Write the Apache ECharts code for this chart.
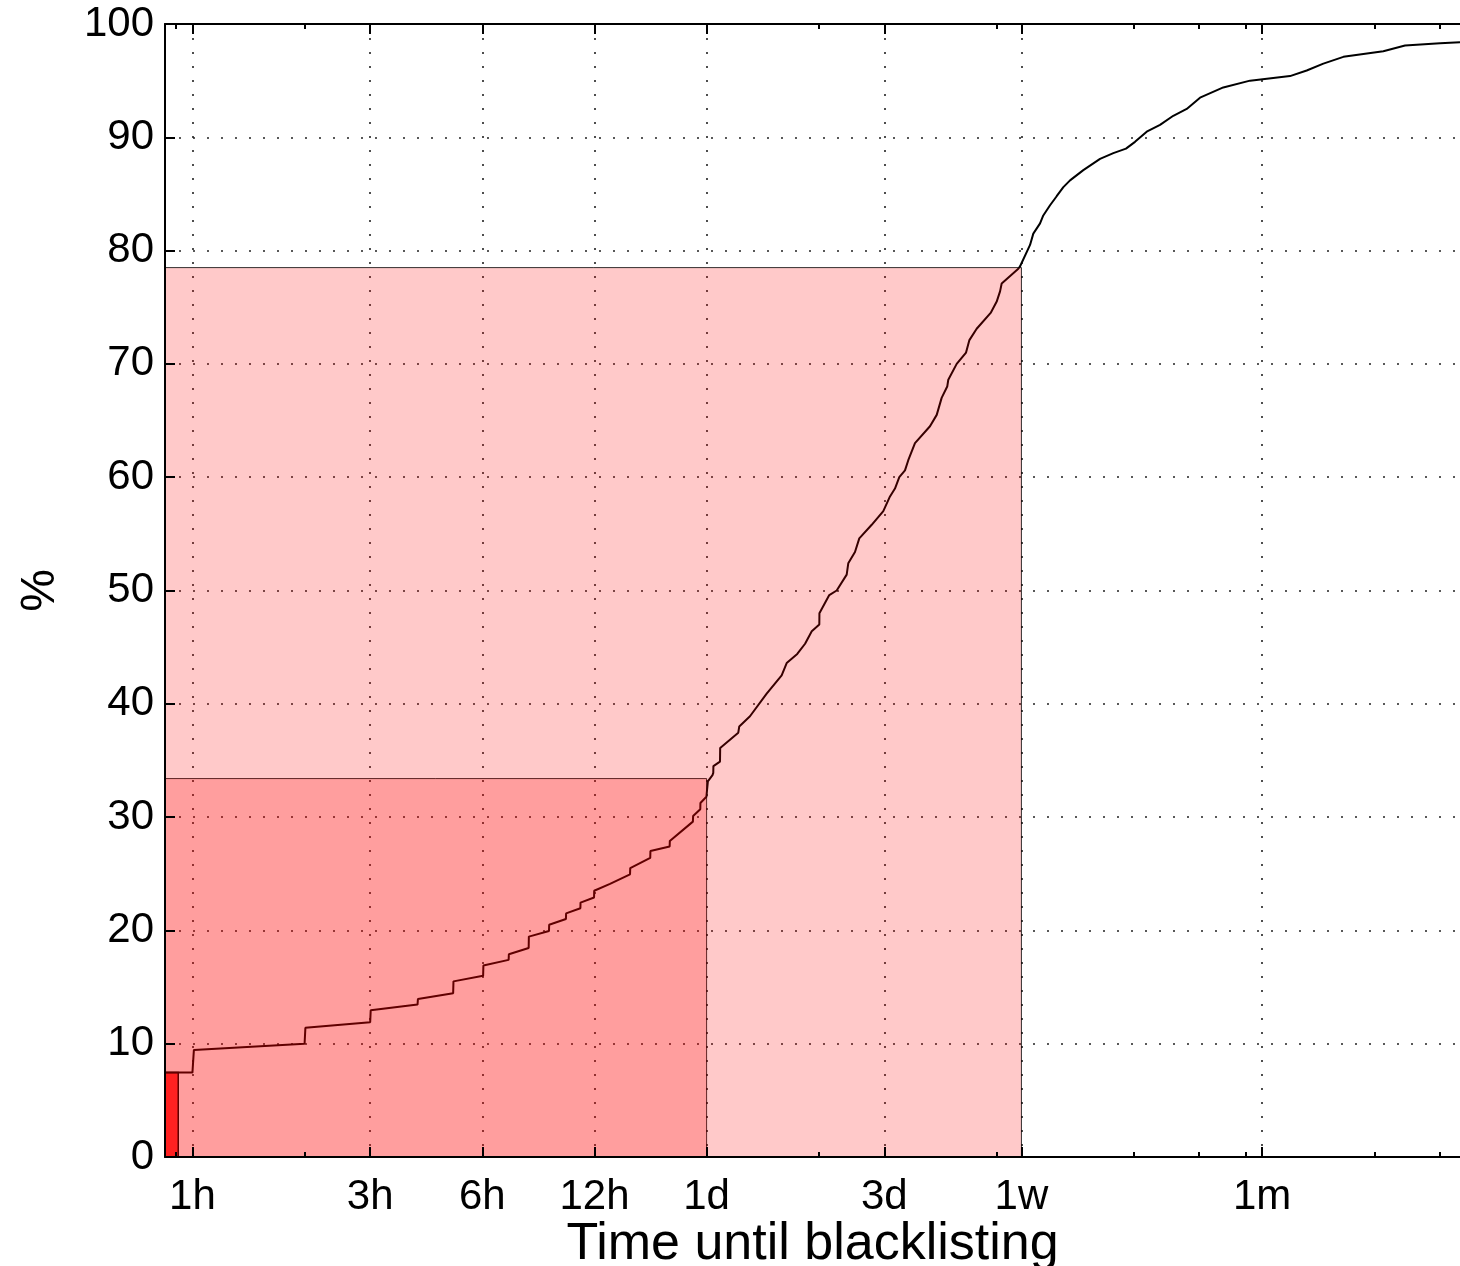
<!DOCTYPE html>
<html>
<head>
<meta charset="utf-8">
<title>Time until blacklisting</title>
<script src="https://cdn.jsdelivr.net/npm/echarts@6/dist/echarts.min.js"></script>
<style>
	html, body { margin: 0; padding: 0; background: #fff; }
	#chart { width: 1460px; height: 1266px; }
</style>
</head>
<body>
<div id="chart"></div>
<script>
"use strict";

// cumulative share of domains blacklisted, by hours after first seen
var cdfHours = [0.844, 1.0, 1.009, 2.0, 2.01, 3.0, 3.01, 4.02, 4.03, 5.01, 5.02, 6.03, 6.04, 7.06, 7.07,
	7.99, 8.0, 9.06, 9.07, 10.06, 10.07, 11.0, 11.01, 11.97, 11.98, 13.21, 14.95, 14.97, 16.94, 16.96,
	19.10, 19.12, 22.05, 22.08, 23.08, 23.1, 23.97, 24.19, 24.89, 25.01, 25.03, 26.07, 26.1, 29.19, 29.37,
	31.38, 34.79, 38.17, 39.37, 42.03, 44.11, 45.97, 48.17, 48.2, 51.23, 53.63, 57.05, 57.61, 60.05, 61.67,
	66.59, 71.54, 74.56, 76.89, 78.97, 81.80, 83.48, 87.01, 95.47, 99.52, 102.6, 106.2, 106.9, 112.6, 119.3,
	121.8, 127.4, 138.9, 144.2, 147.2, 148.7, 164.8, 166.5, 177.2, 180.8, 188.5, 192.3, 200.5, 208.9, 217.7,
	226.9, 246.3, 273.1, 296.5, 320.6, 339.0, 364.4, 395.7, 429.5, 466.7, 506.7, 585.0, 690.2, 883.7, 979.7,
	1086, 1229, 1573, 1799, 2234, 2527];
var cdfPercent = [7.45, 7.45, 9.45, 10.0, 11.4, 11.9, 12.95, 13.45, 13.95, 14.45, 15.5, 16.0, 16.9, 17.4, 17.9,
	18.45, 19.45, 19.95, 20.5, 21.0, 21.5, 21.95, 22.45, 22.9, 23.5, 24.1, 24.95, 25.5, 26.4, 27.0,
	27.4, 27.9, 29.6, 30.1, 30.7, 31.25, 31.8, 33.15, 33.7, 33.9, 34.5, 34.9, 36.1, 37.45, 38.0,
	38.9, 40.9, 42.5, 43.6, 44.4, 45.3, 46.4, 47.0, 48.0, 49.6, 50.0, 51.4, 52.4, 53.4, 54.6,
	55.8, 57.0, 58.3, 59.0, 60.0, 60.6, 61.5, 63.0, 64.5, 65.5, 67.0, 68.0, 68.6, 70.0, 71.0,
	72.1, 73.1, 74.5, 75.5, 76.4, 77.1, 78.4, 78.6, 80.5, 81.5, 82.4, 83.1, 84.0, 84.8, 85.6,
	86.2, 87.1, 88.1, 88.6, 89.0, 89.6, 90.5, 91.1, 91.9, 92.5, 93.5, 94.4, 95.0, 95.4, 95.9,
	96.5, 97.1, 97.6, 98.1, 98.3, 98.4];

// shaded regions: within 1 day, within 1 week
var shadeHours = [24, 168];
var shadePercent = [33.4, 78.5];
// first bucket (bright red bar)
var firstBarHours = [0.916];
var firstBarPercent = [7.45];

var axisMinHours = 0.844;
var axisMaxHours = 2527;
var majorTickHours = [1, 3, 6, 12, 24, 72, 168, 744];
var majorTickLabels = ['1h', '3h', '6h', '12h', '1d', '3d', '1w', '1m'];
var minorTickHours = [0.9, 2, 48, 144, 336, 504, 672, 1488, 2232];

var FONT = 'Liberation Sans, Arial, Helvetica, sans-serif';

function lg(v) {
	return Math.log10(v);
}

var xMin = lg(axisMinHours),
	xMax = lg(axisMaxHours),
	majorLog = majorTickHours.map(lg),
	minorLog = minorTickHours.map(lg);

function xLabel(v) {
	for (var i = 0; i < majorLog.length; i++) {
		if (Math.abs(majorLog[i] - v) < 1e-6) {
			return majorTickLabels[i];
		}
	}
	return '';
}

function rectItem(fill, stroke, lw) {
	return function (params, api) {
		var p0 = api.coord([api.value(0), 0]),
			p1 = api.coord([api.value(1), api.value(2)]);
		return {
			type: 'rect',
			shape: {x: p0[0], y: p1[1], width: p1[0] - p0[0], height: p0[1] - p1[1]},
			style: {fill: fill, stroke: stroke, lineWidth: lw}
		};
	};
}

// frame axis (line + ticks, no labels), drawn above the shading
function frameX(position, values, len, showLine) {
	return {
		type: 'value', min: xMin, max: xMax, position: position, z: 10,
		axisLine: {show: showLine, onZero: false, lineStyle: {color: '#000', width: 2}},
		axisTick: {show: true, inside: true, length: len, customValues: values,
			lineStyle: {color: '#000', width: 2}},
		axisLabel: {show: false},
		splitLine: {show: false}
	};
}

var cdfData = [];
for (var i = 0; i < cdfHours.length; i++) {
	cdfData.push([lg(cdfHours[i]), cdfPercent[i]]);
}
var shadeData = [];
for (var j = 0; j < shadeHours.length; j++) {
	shadeData.push([xMin, lg(shadeHours[j]), shadePercent[j]]);
}
var barData = [];
for (var k = 0; k < firstBarHours.length; k++) {
	barData.push([xMin, lg(firstBarHours[k]), firstBarPercent[k]]);
}

var dots = {color: '#222', width: 1.6, type: [2, 12]};

var chart = echarts.init(document.getElementById('chart'), null, {renderer: 'canvas'}),
	option = {
		animation: false,
		backgroundColor: '#fff',
		grid: {left: 165, right: 0, top: 24, bottom: 109, containLabel: false, outerBoundsMode: 'none'},
		xAxis: [
			{
				type: 'value', min: xMin, max: xMax, position: 'bottom', z: 0,
				axisLine: {show: false, onZero: false},
				axisTick: {show: false, customValues: majorLog},
				axisLabel: {
					customValues: majorLog, formatter: xLabel, margin: 19,
					color: '#000', fontSize: 42, fontFamily: FONT
				},
				splitLine: {show: true, lineStyle: dots},
				name: 'Time until blacklisting',
				nameLocation: 'middle',
				nameMoveOverlap: false,
				nameGap: 62,
				nameTextStyle: {color: '#000', fontSize: 52, fontFamily: FONT}
			},
			frameX('bottom', majorLog, 10, true),
			frameX('bottom', minorLog, 5, false),
			frameX('top', majorLog, 10, true),
			frameX('top', minorLog, 5, false)
		],
		yAxis: [
			{
				type: 'value', min: 0, max: 100, interval: 10, position: 'left', z: 0,
				axisLine: {show: false, onZero: false},
				axisTick: {show: false},
				axisLabel: {margin: 11, color: '#000', fontSize: 42, fontFamily: FONT},
				splitLine: {show: true, lineStyle: dots},
				name: '%',
				nameLocation: 'middle',
				nameMoveOverlap: false,
				nameRotate: 90,
				nameGap: 100,
				nameTextStyle: {color: '#000', fontSize: 48, fontFamily: FONT}
			},
			{
				type: 'value', min: 0, max: 100, interval: 10, position: 'left', z: 10,
				axisLine: {show: true, onZero: false, lineStyle: {color: '#000', width: 2}},
				axisTick: {show: true, inside: true, length: 10, lineStyle: {color: '#000', width: 2}},
				axisLabel: {show: false},
				splitLine: {show: false}
			}
		],
		series: [
			{
				name: 'first bucket',
				type: 'custom',
				z: 1,
				silent: true,
				clip: true,
				encode: {x: [0, 1], y: 2},
				data: barData,
				renderItem: rectItem('#ff3636', '#000', 1.5)
			},
			{
				name: 'cdf',
				type: 'line',
				z: 2,
				silent: true,
				showSymbol: false,
				symbol: 'none',
				lineStyle: {color: '#000', width: 2},
				data: cdfData
			},
			{
				name: 'shade',
				type: 'custom',
				z: 5,
				silent: true,
				clip: true,
				encode: {x: [0, 1], y: 2},
				data: shadeData,
				renderItem: rectItem('rgba(255,0,0,0.21)', 'rgba(0,0,0,0.8)', 1)
			}
		]
	};

chart.setOption(option);
</script>
</body>
</html>
